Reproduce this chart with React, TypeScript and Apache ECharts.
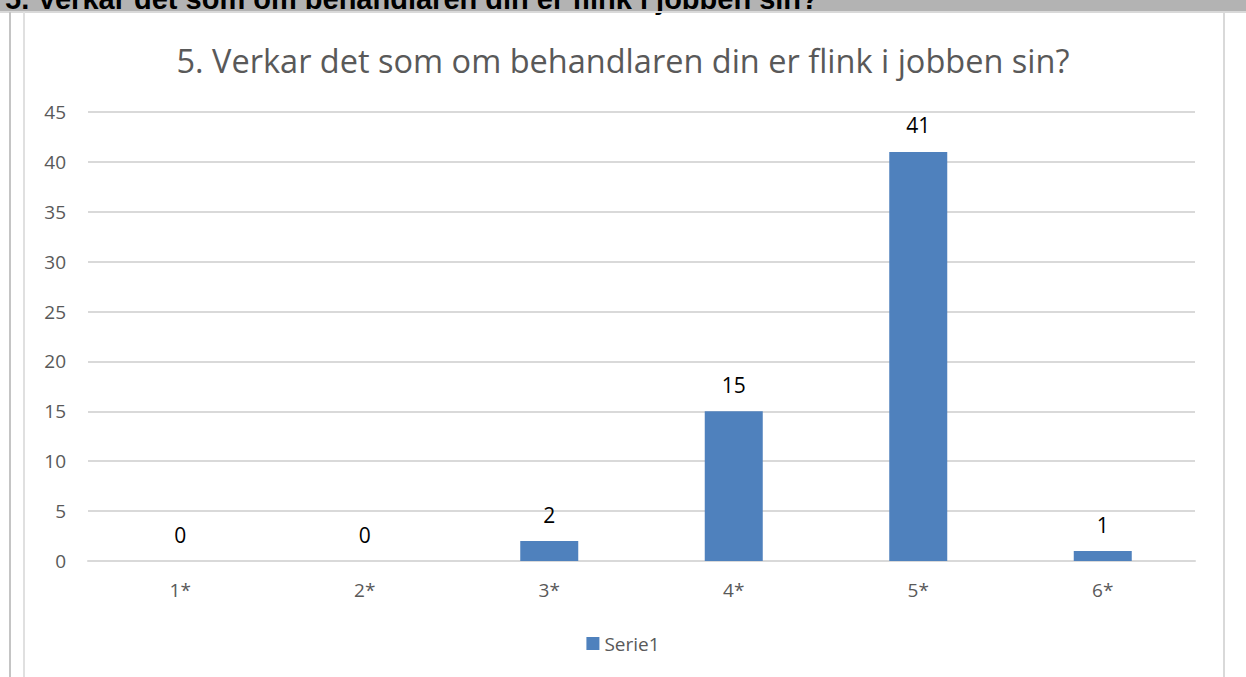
import React, { useEffect, useRef } from "react";
import * as echarts from "echarts";

const categories = ["1*", "2*", "3*", "4*", "5*", "6*"];
const values = [0, 0, 2, 15, 41, 1];
const seriesName = "Serie1";
const chartTitle = "5. Verkar det som om behandlaren din er flink i jobben sin?";
const headerText = "5. Verkar det som om behandlaren din er flink i jobben sin?";
const yMin = 0;
const yMax = 45;
const yInterval = 5;

export default function App() {
  const ref = useRef<HTMLDivElement>(null);
  useEffect(() => {
    if (!ref.current) return;
    const chart = echarts.init(ref.current, null, { renderer: "svg" });
    chart.setOption({
      animation: false,
      backgroundColor: "#ffffff",
      title: {
        text: chartTitle,
        left: "center",
        top: 39,
        textStyle: {
          fontFamily: "Open Sans",
          fontSize: 32.5,
          fontWeight: "normal",
          color: "#595959",
        },
      },
      legend: {
        data: [seriesName],
        bottom: 19,
        left: "center",
        itemWidth: 13,
        itemHeight: 13,
        itemGap: 6,
        icon: "rect",
        textStyle: { fontFamily: "Open Sans", fontSize: 19, color: "#595959" },
      },
      grid: { left: 88, right: 51, top: 112, bottom: 116 },
      xAxis: {
        type: "category",
        data: categories,
        axisLine: { lineStyle: { color: "#d9d9d9", width: 2 } },
        axisTick: { show: false },
        axisLabel: {
          fontFamily: "Open Sans",
          fontSize: 19,
          color: "#595959",
          margin: 19,
        },
      },
      yAxis: {
        type: "value",
        min: yMin,
        max: yMax,
        interval: yInterval,
        axisLine: { show: false },
        axisTick: { show: false },
        splitLine: { lineStyle: { color: "#d9d9d9", width: 2 } },
        axisLabel: {
          fontFamily: "Open Sans",
          fontSize: 19,
          color: "#595959",
          margin: 22,
        },
      },
      series: [
        {
          name: seriesName,
          type: "bar",
          data: values,
          barWidth: 58,
          itemStyle: { color: "#4f81bd" },
          label: {
            show: true,
            position: "top",
            distance: 16,
            fontFamily: "Open Sans",
            fontSize: 21,
            color: "#000000",
          },
        },
      ],
      graphic: [
        { type: "rect", shape: { x: 0, y: 0, width: 1246, height: 11 }, style: { fill: "#b3b3b3" }, silent: true },
        { type: "rect", shape: { x: 0, y: 11, width: 1246, height: 2 }, style: { fill: "#d9d9d9" }, silent: true },
        {
          type: "text",
          x: 5,
          y: 13,
          style: {
            text: headerText,
            font: "bold 29px 'Liberation Sans'",
            fill: "#000000",
            verticalAlign: "bottom",
            align: "left",
          },
          silent: true,
        },
        { type: "rect", shape: { x: 0, y: 11, width: 1246, height: 2 }, style: { fill: "#d9d9d9" }, silent: true },
        { type: "rect", shape: { x: 9, y: 12, width: 2, height: 665 }, style: { fill: "#c4c4c4" }, silent: true },
        { type: "rect", shape: { x: 23, y: 12, width: 2, height: 665 }, style: { fill: "#e0e0e0" }, silent: true },
        { type: "rect", shape: { x: 1223, y: 12, width: 2, height: 665 }, style: { fill: "#d9d9d9" }, silent: true },
      ],
    });
    return () => chart.dispose();
  }, []);
  return (
    <div
      ref={ref}
      style={{ position: "absolute", left: 0, top: 0, width: 1246, height: 677 }}
    />
  );
}
